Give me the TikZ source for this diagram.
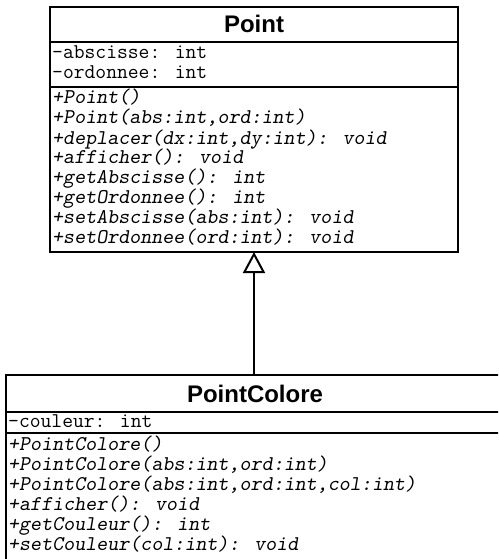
\documentclass[tikz,border=0pt]{standalone}
\usepackage{fontspec}
\setmainfont{Liberation Sans}
\usetikzlibrary{arrows.meta}
\begin{document}
\begin{tikzpicture}[x=1pt,y=-1pt,
  umlbox/.style={draw=black,line width=2pt,fill=white,inner sep=0pt},
  umlrule/.style={draw=black,line width=2pt},
  classname/.style={anchor=base,inner sep=0pt,font=\fontsize{24}{24}\selectfont\bfseries},
  member/.style={anchor=base west,inner sep=0pt,font=\ttfamily\fontsize{21}{20}\selectfont},
  operation/.style={member,font=\ttfamily\slshape\fontsize{21}{20}\selectfont},
  inherits/.style={draw=black,line width=2pt,-{Triangle[open,length=21pt,width=22pt,line width=2pt]}}
]
\useasboundingbox (0,0) rectangle (498,559);
\clip (0,0) rectangle (498,559);

% ---- class Point ----
\path[umlbox] (50,7) rectangle (458,252);
\coordinate (point-s) at (254,252);
\draw[umlrule] (50,42) -- (458,42);
\draw[umlrule] (50,87) -- (458,87);
\node[classname] (point-name) at (254,33) {Point};
\node[member] (pa1) at (52,59) {-abscisse: int};
\node[member] (pa2) at (52,79) {-ordonnee: int};
\node[operation] (pm1) at (52,104) {+Point()};
\node[operation] (pm2) at (52,124) {+Point(abs:int,ord:int)};
\node[operation] (pm3) at (52,144) {+deplacer(dx:int,dy:int): void};
\node[operation] (pm4) at (52,163) {+afficher(): void};
\node[operation] (pm5) at (52,183) {+getAbscisse(): int};
\node[operation] (pm6) at (52,203) {+getOrdonnee(): int};
\node[operation] (pm7) at (52,223) {+setAbscisse(abs:int): void};
\node[operation] (pm8) at (52,243) {+setOrdonnee(ord:int): void};

% ---- class PointColore ----
\path[umlbox] (6,375) rectangle (504,566);
\coordinate (pc-n) at (254,375);
\draw[umlrule] (6,412) -- (504,412);
\draw[umlrule] (6,433) -- (504,433);
\node[classname] (pc-name) at (255,402) {PointColore};
\node[member] (ca1) at (8,427) {-couleur: int};
\node[operation] (cm1) at (8,450) {+PointColore()};
\node[operation] (cm2) at (8,470) {+PointColore(abs:int,ord:int)};
\node[operation] (cm3) at (8,490) {+PointColore(abs:int,ord:int,col:int)};
\node[operation] (cm4) at (8,510) {+afficher(): void};
\node[operation] (cm5) at (8,530) {+getCouleur(): int};
\node[operation] (cm6) at (8,550) {+setCouleur(col:int): void};

% ---- generalisation ----
\draw[inherits] (pc-n) -- (point-s);
\end{tikzpicture}
\end{document}
